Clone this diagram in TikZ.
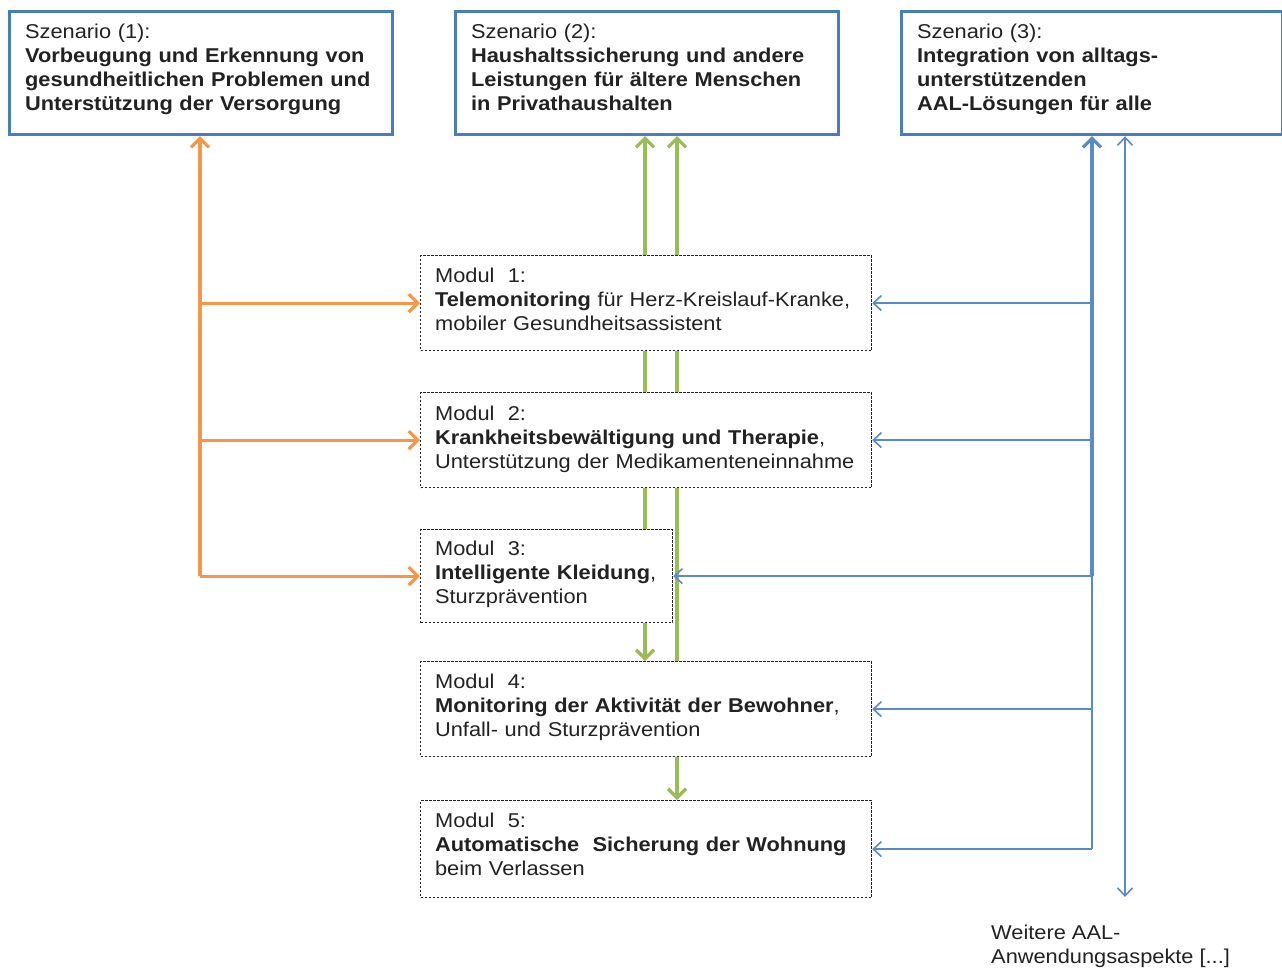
\documentclass[tikz,border=0pt]{standalone}
\usepackage{fontspec}
\setmainfont{Liberation Sans}[FakeStretch=1.09]
\usetikzlibrary{arrows.meta}
\definecolor{boxblue}{HTML}{4A7EBB}
\definecolor{lineblue}{HTML}{5B8ACB}
\definecolor{aorange}{HTML}{F79646}
\definecolor{agreen}{HTML}{9BBB59}
\definecolor{txt}{HTML}{222222}
\newcommand{\lowpad}[1]{\rule[-#1]{0pt}{0pt}}
\begin{document}
\begin{tikzpicture}[x=1pt,y=-1pt,
  every node/.style={font=\fontsize{20}{24}\selectfont, text=txt},
  scenbox/.style={draw=boxblue, line width=3.2pt, fill=white, anchor=north west,
    minimum width=383pt, minimum height=123pt, inner xsep=14.5pt, inner ysep=0pt,
    text width=352pt, align=left},
  modbox/.style={draw=black!85, line width=1.2pt, dash pattern=on 2.6pt off 1.4pt,
    fill=white, anchor=north west, inner xsep=14.5pt, inner ysep=0pt, align=left},
  oline/.style={draw=aorange, line width=3.2pt},
  gline/.style={draw=agreen, line width=3.2pt},
  bthick/.style={draw=lineblue, line width=3.2pt},
  bthin/.style={draw=lineblue, line width=1.6pt},
  otip/.style={-{Straight Barb[length=9pt,width=18pt]}},
  btip/.style={-{Straight Barb[length=8pt,width=15pt]}},
  bbtip/.style={{Straight Barb[length=8pt,width=15pt]}-{Straight Barb[length=8pt,width=15pt]}}
]
\useasboundingbox (0,0) rectangle (1282,972);

% scenario boxes
\node[scenbox] (s1) at (8,10) {Szenario (1):\\\textbf{Vorbeugung und Erkennung von gesundheitlichen Problemen und Unterstützung der Versorgung}\lowpad{12pt}};
\node[scenbox] (s2) at (454,10) {Szenario (2):\\\textbf{Haushaltssicherung und andere Leistungen für ältere Menschen in Privathaushalten}\lowpad{12pt}};
\node[scenbox, minimum width=381pt, text width=350pt] (s3) at (900,10) {Szenario (3):\\\textbf{Integration von alltags-\\unterstützenden\\AAL-Lösungen für alle}\lowpad{11pt}};

% module boxes
\node[modbox, minimum width=451pt, minimum height=95pt, text width=422pt] (m1) at (420,255)
  {Modul\ \ 1:\\\textbf{Telemonitoring} für Herz-Kreislauf-Kranke,\\mobiler Gesundheitsassistent\lowpad{8pt}};
\node[modbox, minimum width=451pt, minimum height=95pt, text width=422pt] (m2) at (420,392)
  {Modul\ \ 2:\\\textbf{Krankheitsbewältigung und Therapie},\\Unterstützung der Medikamenteneinnahme\lowpad{6pt}};
\node[modbox, minimum width=252pt, minimum height=93pt, text width=223pt] (m3) at (420,529)
  {Modul\ \ 3:\\\textbf{Intelligente Kleidung},\\Sturzprävention\lowpad{8pt}};
\node[modbox, minimum width=451pt, minimum height=95pt, text width=422pt] (m4) at (420,661)
  {Modul\ \ 4:\\\textbf{Monitoring der Aktivität der Bewohner},\\Unfall- und Sturzprävention\lowpad{8pt}};
\node[modbox, minimum width=451pt, minimum height=97pt, text width=422pt] (m5) at (420,800)
  {Modul\ \ 5:\\\textbf{Automatische\ \ Sicherung der Wohnung}\\beim Verlassen\lowpad{9pt}};

\node[anchor=north west, inner sep=0pt, align=left] (w) at (991,925)
  {Weitere AAL-\\Anwendungsaspekte [...]};

% helper coordinates
\coordinate (ox) at (200,0);
\coordinate (ga) at (645,0);
\coordinate (gb) at (677,0);
\coordinate (ba) at (1092,0);
\coordinate (bb) at (1125,0);

% orange connectors
\draw[oline, otip] (ox |- m3.west) -- (ox |- s1.south);
\draw[oline, otip] (ox |- m1.west) -- (m1.west);
\draw[oline, otip] (ox |- m2.west) -- (m2.west);
\draw[oline, otip] (ox |- m3.west) -- (m3.west);

% green connectors
\draw[gline, otip] (ga |- m1.north) -- (ga |- s2.south);
\draw[gline, otip] (gb |- m1.north) -- (gb |- s2.south);
\draw[gline] (ga |- m2.north) -- (ga |- m1.south);
\draw[gline] (gb |- m2.north) -- (gb |- m1.south);
\draw[gline] (ga |- m3.north) -- (ga |- m2.south);
\draw[gline] (gb |- m4.north) -- (gb |- m2.south);
\draw[gline, otip] (ga |- m3.south) -- (ga |- m4.north);
\draw[gline, otip] (gb |- m4.south) -- (gb |- m5.north);

% blue connectors
\draw[bthick, otip] (ba |- m3.east) -- (ba |- s3.south);
\draw[bthin] (ba |- m5.east) -- (ba |- m3.east);
\draw[bthin, btip] (ba |- m1.east) -- (m1.east);
\draw[bthin, btip] (ba |- m2.east) -- (m2.east);
\draw[bthin, btip] (ba |- m3.east) -- (m3.east);
\draw[bthin, btip] (ba |- m4.east) -- (m4.east);
\draw[bthin, btip] (ba |- m5.east) -- (m5.east);
\draw[bthin, bbtip] (bb |- s3.south) -- ([yshift=28pt]bb |- w.north);
\end{tikzpicture}
\end{document}
